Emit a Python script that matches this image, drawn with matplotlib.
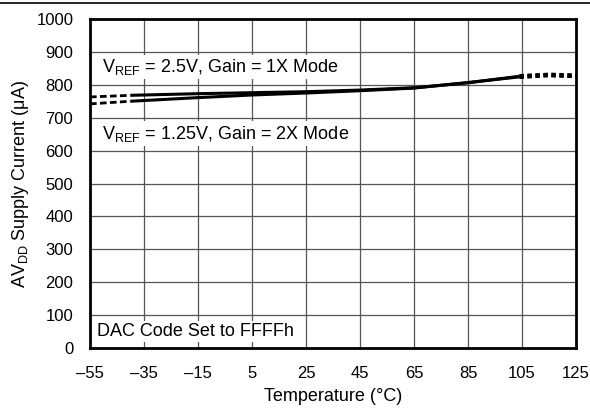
import matplotlib.pyplot as plt
from matplotlib.lines import Line2D

plt.rcParams['font.family'] = ['Liberation Sans', 'DejaVu Sans']
plt.rcParams['mathtext.fontset'] = 'custom'
plt.rcParams['mathtext.rm'] = 'Liberation Sans'
plt.rcParams['mathtext.it'] = 'Liberation Sans'

# temperature (°C) and supply current (uA)
temp_lo = [-55, -40]
temp_mid = [-40, -15, 5, 25, 45, 65, 85, 104]
temp_hi = [104, 115, 125]

gain1_lo = [763, 768]
gain1_mid = [768, 773, 776, 779, 784, 791, 806, 826]
gain1_hi = [826, 830, 827]

gain2_lo = [742, 750]
gain2_mid = [750, 761, 769, 775, 782, 790, 807, 824]
gain2_hi = [824, 830, 827]

x_ticks = [-55, -35, -15, 5, 25, 45, 65, 85, 105, 125]
x_labels = ['\u201355', '\u201335', '\u201315', '5', '25', '45', '65', '85', '105', '125']
y_ticks = list(range(0, 1001, 100))

fig = plt.figure(figsize=(5.9, 4.12), dpi=100)
ax = fig.add_axes([0.1525, 0.155, 0.824, 0.799])

for lo, mid, hi in [(gain1_lo, gain1_mid, gain1_hi), (gain2_lo, gain2_mid, gain2_hi)]:
    ax.plot(temp_lo, lo, color='black', lw=2, linestyle=(0, (2.4, 1.2)))
    ax.plot(temp_mid, mid, color='black', lw=2.2, solid_capstyle='butt')
    ax.plot(temp_hi, hi, color='black', lw=3.2, linestyle=(0, (1, 0.8)))

ax.set_xlim(-55, 125)
ax.set_ylim(0, 1000)
ax.set_xticks(x_ticks)
ax.set_xticklabels(x_labels)
ax.set_yticks(y_ticks)
ax.tick_params(labelsize=12, length=0)
ax.tick_params(axis='x', pad=13)
ax.tick_params(axis='y', pad=12)
ax.grid(True, color='#555555', lw=0.9)
ax.set_axisbelow(True)
for s in ax.spines.values():
    s.set_linewidth(2)

ax.set_xlabel('Temperature (\u00b0C)', fontsize=13, labelpad=5)
ax.set_ylabel('AV$_{\\mathrm{DD}}$ Supply Current (\u03bcA)', fontsize=13, labelpad=4)

box = dict(facecolor='white', edgecolor='none', pad=1.5)
ax.text(-50.5, 855, 'V$_{\\mathrm{REF}}$ = 2.5V, Gain = 1X Mode', fontsize=13,
        va='center', bbox=box)
ax.text(-50.5, 652, 'V$_{\\mathrm{REF}}$ = 1.25V, Gain = 2X Mode', fontsize=13,
        va='center', bbox=box)
ax.text(-52.5, 50, 'DAC Code Set to FFFFh', fontsize=13, va='center', bbox=box)

fig.add_artist(Line2D([0, 1], [0.993, 0.993], color='black', lw=1.2,
                      transform=fig.transFigure))

fig.savefig('out.png', dpi=100)
